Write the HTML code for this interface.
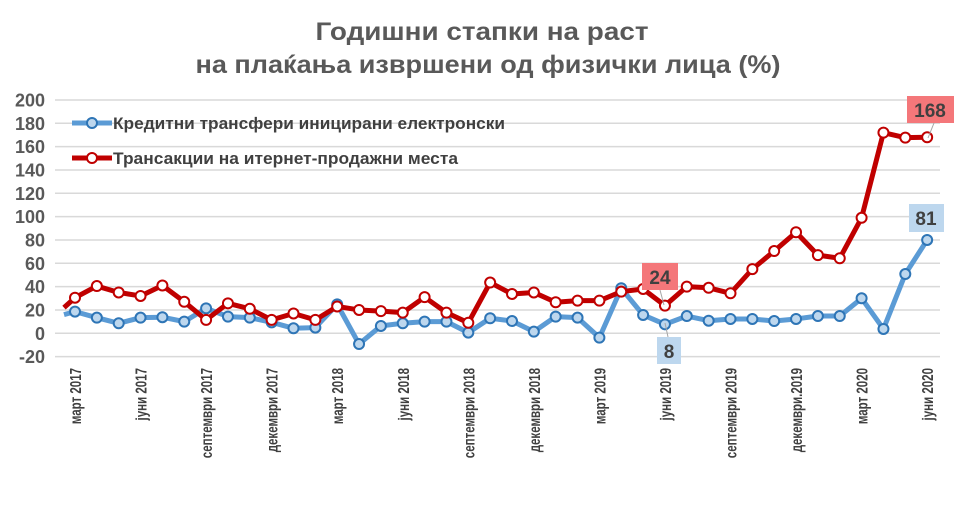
<!DOCTYPE html>
<html><head><meta charset="utf-8"><style>
html,body{margin:0;padding:0;background:#fff;}
svg{display:block;font-family:"Liberation Sans",sans-serif;}
</style></head><body>
<svg width="976" height="517" viewBox="0 0 976 517" xmlns="http://www.w3.org/2000/svg">
<text x="482" y="40" text-anchor="middle" font-size="25" font-weight="bold" fill="#595959" textLength="333" lengthAdjust="spacingAndGlyphs">Годишни стапки на раст</text>
<text x="488" y="73" text-anchor="middle" font-size="25" font-weight="bold" fill="#595959" textLength="585" lengthAdjust="spacingAndGlyphs">на плаќања извршени од физички лица (%)</text>
<g id="grid" stroke="#d9d9d9" stroke-width="1.5"></g>
<g id="ylab" font-size="18" font-weight="bold" fill="#595959" text-anchor="end"></g>
<g id="xlab" font-size="16" font-weight="bold" fill="#404040" text-anchor="end"></g>
<g id="series"></g>
<g font-size="17" font-weight="bold" fill="#404040">
<line x1="72" y1="123" x2="112" y2="123" stroke="#5b9bd5" stroke-width="5"/>
<circle cx="92" cy="123" r="5" fill="#bdd7ee" stroke="#2e75b6" stroke-width="2"/>
<text x="113" y="129" textLength="392" lengthAdjust="spacingAndGlyphs">Кредитни трансфери иницирани електронски</text>
<line x1="72" y1="158" x2="112" y2="158" stroke="#c00000" stroke-width="5"/>
<circle cx="92" cy="158" r="5" fill="#fff" stroke="#c00000" stroke-width="2"/>
<text x="113" y="164" textLength="345" lengthAdjust="spacingAndGlyphs">Трансакции на итернет-продажни места</text>
</g>
<g id="labels" font-size="19" font-weight="bold" fill="#404040" text-anchor="middle">
<line x1="928" y1="138" x2="934" y2="123" stroke="#a6a6a6"/>
<rect x="907" y="96" width="47" height="27" fill="#f4777a"/><text x="930" y="117">168</text>
<rect x="909" y="204" width="35" height="28" fill="#bdd7ee"/><text x="926" y="225">81</text>
<line x1="664" y1="305" x2="660" y2="290" stroke="#a6a6a6"/>
<rect x="642" y="263" width="36" height="27" fill="#f4777a"/><text x="660" y="284">24</text>
<line x1="665" y1="323" x2="668" y2="337" stroke="#a6a6a6"/>
<rect x="657" y="337" width="24" height="27" fill="#bdd7ee"/><text x="669" y="358">8</text>
</g>
</svg>
<script>
const ns="http://www.w3.org/2000/svg";
function el(p,t,a,txt){const e=document.createElementNS(ns,t);for(const k in a)e.setAttribute(k,a[k]);if(txt!==undefined)e.textContent=txt;document.getElementById(p).appendChild(e);return e;}
const Y=v=>333.3-v*1.1667, X=i=>75+21.85*i;
for(let v=-20;v<=200;v+=20){el("grid","line",{x1:55,x2:940,y1:Y(v),y2:Y(v)});el("ylab","text",{x:45,y:Y(v)+6.5},String(v));}
const months=["март 2017","јуни 2017","септември 2017","декември 2017","март 2018","јуни 2018","септември 2018","декември 2018","март 2019","јуни 2019","септември 2019","декември.2019","март 2020","јуни 2020"];
months.forEach((m,k)=>{const x=X(k*3)+6;const t=el("xlab","text",{x:0,y:0,transform:`translate(${x},368) rotate(-90)`},m);
 const L=t.getComputedTextLength();t.setAttribute("textLength",(L*0.72).toFixed(1));t.setAttribute("lengthAdjust","spacingAndGlyphs");});
const red=[30.5,40.5,35,32,41,27,11.5,25.7,21,11.5,17,11.5,23,20,19,17.7,31,17.7,9,43.5,33.7,35,26.6,28,28,35.7,38,23.7,40,39,34.3,55,70.5,86.6,67,64.3,99,172,167.7,168];
const blue=[18.6,13.4,8.6,13.4,13.8,10,21.4,14.3,13.4,9.4,4.3,4.9,24.8,-9.2,6.3,8.6,10,10,0.6,12.9,10.5,1.4,14.3,13.4,-3.7,38.6,15.7,7.7,14.8,10.8,12.3,12.3,10.5,12.3,14.8,14.8,30,3.7,50.8,80];
function draw(d,s0,col,fill,stroke){let p=`M64,${Y(s0)} `+d.map((v,i)=>`L${X(i)},${Y(v)}`).join(" ");
el("series","path",{d:p,fill:"none",stroke:col,"stroke-width":5,"stroke-linejoin":"round"});
d.forEach((v,i)=>el("series","circle",{cx:X(i),cy:Y(v),r:5,fill:fill,stroke:stroke,"stroke-width":2}));}
draw(blue,16,"#5b9bd5","#bdd7ee","#2e75b6");
draw(red,22,"#c00000","#fff","#c00000");
</script>
</body></html>
